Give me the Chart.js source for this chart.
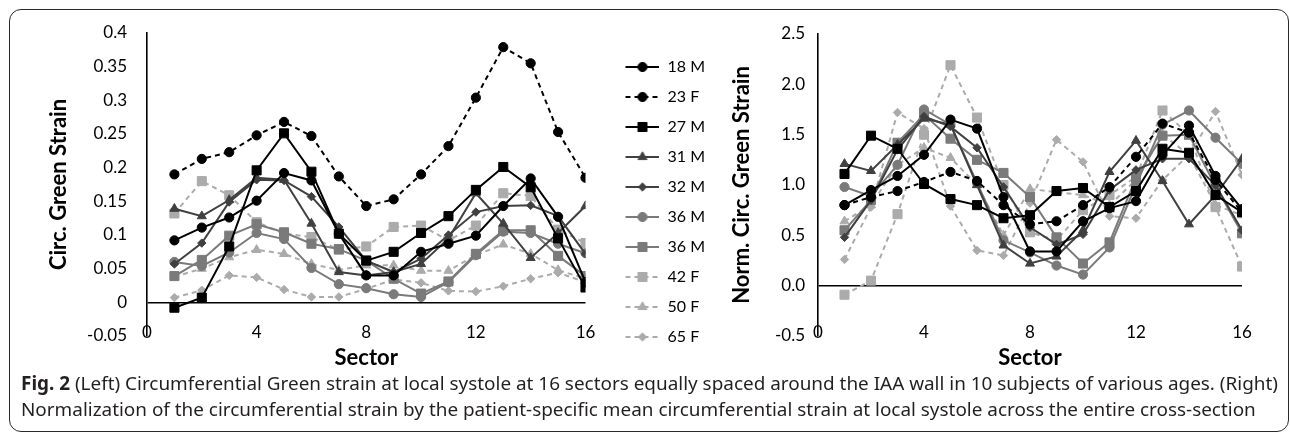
<!DOCTYPE html>
<html>
<head>
<meta charset="utf-8">
<script src="https://cdn.jsdelivr.net/npm/chart.js@4.4.1/dist/chart.umd.min.js"></script>
<style>
  html, body { margin: 0; padding: 0; background: #fff; }
  body { width: 1290px; height: 436px; position: relative; overflow: hidden; }
  #frame { position: absolute; left: 9px; top: 9px; width: 1280px; height: 423px; box-sizing: border-box;
           border: 1.5px solid #2a2a2a; border-radius: 12px; }
  #leftChart { position: absolute; left: 0; top: 0; }
  #rightChart { position: absolute; left: 715px; top: 0; }
  #caption { position: absolute; left: 21px; top: 370px; font-family: 'Noto Sans', sans-serif;
             font-size: 16px; line-height: 26px; color: #231f20; white-space: nowrap; }
  #caption b { font-weight: bold; }
</style>
</head>
<body>
<div id="frame"></div>
<canvas id="leftChart" width="715" height="371"></canvas>
<canvas id="rightChart" width="575" height="371"></canvas>
<div id="caption"><span id="capLine1"><b>Fig. 2</b> (Left) Circumferential Green strain at local systole at 16 sectors equally spaced around the IAA wall in 10 subjects of various ages. (Right)</span><br>Normalization of the circumferential strain by the patient-specific mean circumferential strain at local systole across the entire cross-section</div>
<script>
// sectors and subjects
const sectors = [1, 2, 3, 4, 5, 6, 7, 8, 9, 10, 11, 12, 13, 14, 15, 16];
const subjects = ['18 M', '23 F', '27 M', '31 M', '32 M', '36 M', '36 M', '42 F', '50 F', '65 F'];

// tick labels
const xTicks = [0, 4, 8, 12, 16];
const strainTicks = [-0.05, 0, 0.05, 0.1, 0.15, 0.2, 0.25, 0.3, 0.35, 0.4];
const normTicks = [-0.5, 0, 0.5, 1, 1.5, 2, 2.5];

// circumferential green strain (left)
const strain18M = [0.092, 0.111, 0.126, 0.151, 0.192, 0.181, 0.102, 0.040, 0.040, 0.075, 0.087, 0.099, 0.143, 0.184, 0.127, 0.030];
const strain23F = [0.190, 0.213, 0.223, 0.248, 0.268, 0.247, 0.187, 0.143, 0.153, 0.190, 0.232, 0.304, 0.379, 0.355, 0.253, 0.185];
const strain27M = [-0.008, 0.007, 0.083, 0.196, 0.251, 0.194, 0.102, 0.062, 0.075, 0.103, 0.128, 0.167, 0.201, 0.171, 0.095, 0.022];
const strain31M = [0.139, 0.128, 0.152, 0.185, 0.182, 0.117, 0.045, 0.040, 0.045, 0.057, 0.095, 0.162, 0.117, 0.066, 0.103, 0.143];
const strain32M = [0.057, 0.088, 0.149, 0.182, 0.181, 0.157, 0.112, 0.062, 0.045, 0.065, 0.100, 0.134, 0.143, 0.144, 0.128, 0.072];
const strain36Ma = [0.060, 0.054, 0.074, 0.103, 0.094, 0.051, 0.027, 0.021, 0.012, 0.008, 0.030, 0.070, 0.105, 0.103, 0.087, 0.073];
const strain36Mb = [0.039, 0.063, 0.099, 0.116, 0.104, 0.087, 0.079, 0.062, 0.035, 0.013, 0.031, 0.072, 0.107, 0.107, 0.069, 0.039];
const strain42F = [0.132, 0.180, 0.159, 0.119, 0.102, 0.097, 0.078, 0.083, 0.112, 0.114, 0.092, 0.114, 0.162, 0.158, 0.108, 0.088];
const strain50F = [0.038, 0.050, 0.067, 0.078, 0.072, 0.057, 0.048, 0.055, 0.055, 0.047, 0.047, 0.070, 0.086, 0.072, 0.048, 0.035];
const strain65F = [0.007, 0.018, 0.040, 0.037, 0.019, 0.008, 0.008, 0.020, 0.034, 0.029, 0.017, 0.016, 0.024, 0.035, 0.044, 0.030];

// normalized strain (right)
const norm18M = [0.80, 0.95, 1.09, 1.30, 1.65, 1.56, 0.88, 0.34, 0.34, 0.64, 0.77, 0.84, 1.30, 1.59, 1.09, 0.76];
const norm23F = [0.80, 0.88, 0.94, 1.03, 1.13, 1.04, 0.80, 0.61, 0.64, 0.80, 0.98, 1.28, 1.61, 1.52, 1.05, 0.73];
const norm27M = [1.11, 1.49, 1.36, 1.01, 0.86, 0.80, 0.67, 0.70, 0.94, 0.97, 0.78, 0.94, 1.36, 1.32, 0.90, 0.73];
const norm31M = [1.21, 1.14, 1.40, 1.66, 1.60, 1.00, 0.40, 0.22, 0.29, 0.55, 1.13, 1.44, 1.04, 0.61, 0.90, 1.26];
const norm32M = [0.48, 0.85, 1.35, 1.68, 1.58, 1.37, 0.98, 0.58, 0.41, 0.51, 0.95, 1.15, 1.26, 1.26, 1.00, 0.55];
const norm36Ma = [0.98, 0.89, 1.20, 1.75, 1.60, 1.02, 0.45, 0.33, 0.20, 0.11, 0.38, 1.00, 1.60, 1.74, 1.47, 1.21];
const norm36Mb = [0.55, 0.85, 1.42, 1.70, 1.46, 1.25, 1.12, 0.88, 0.48, 0.22, 0.43, 1.07, 1.49, 1.50, 0.99, 0.52];
const norm42F = [-0.09, 0.05, 0.71, 1.50, 2.19, 1.67, 1.00, 0.53, 0.45, 0.75, 0.90, 1.08, 1.74, 1.50, 0.78, 0.19];
const norm50F = [0.64, 0.80, 1.20, 1.37, 1.27, 1.00, 0.50, 0.96, 0.93, 0.90, 0.80, 1.05, 1.50, 1.30, 0.80, 0.70];
const norm65F = [0.26, 0.78, 1.72, 1.56, 0.79, 0.35, 0.30, 0.82, 1.45, 1.23, 0.69, 0.67, 1.05, 1.30, 1.73, 1.10];

const leftValues = [strain18M, strain23F, strain27M, strain31M, strain32M, strain36Ma, strain36Mb, strain42F, strain50F, strain65F];
const rightValues = [norm18M, norm23F, norm27M, norm31M, norm32M, norm36Ma, norm36Mb, norm42F, norm50F, norm65F];

// look of each subject
const BLACK = '#000000', DARK = '#404040', MID = '#7a7a7a', LIGHT = '#ababab';
const looks = [
  { color: BLACK, dash: [], marker: 'circle', r: 4.6 },
  { color: BLACK, dash: [5, 4], marker: 'circle', r: 4.6 },
  { color: BLACK, dash: [], marker: 'rect', r: 6.4 },
  { color: DARK, dash: [], marker: 'triangle', r: 5.2 },
  { color: DARK, dash: [], marker: 'rectRot', r: 4.2 },
  { color: MID, dash: [], marker: 'circle', r: 4.6 },
  { color: MID, dash: [], marker: 'rect', r: 6.4 },
  { color: LIGHT, dash: [5, 4], marker: 'rect', r: 6.4 },
  { color: LIGHT, dash: [5, 4], marker: 'triangle', r: 5.2 },
  { color: LIGHT, dash: [5, 4], marker: 'rectRot', r: 4.2 }
];

const FONT = 'Lato';

function buildDatasets(valueLists) {
  return valueLists.map((vals, i) => ({
    label: subjects[i],
    data: sectors.map((s, k) => ({ x: s, y: vals[k] })),
    borderColor: looks[i].color,
    backgroundColor: looks[i].color,
    borderWidth: 2,
    borderDash: looks[i].dash,
    tension: 0,
    pointStyle: looks[i].marker,
    pointRadius: looks[i].r,
    pointBorderWidth: 1,
    pointBorderColor: looks[i].color,
    pointBackgroundColor: looks[i].color
  }));
}

// legend sample: short line with a marker in its middle
function legendSample(look) {
  const c = document.createElement('canvas');
  c.width = 60; c.height = 14;
  const ctx = c.getContext('2d');
  ctx.strokeStyle = look.color;
  ctx.lineWidth = 2;
  ctx.setLineDash(look.dash);
  ctx.beginPath();
  ctx.moveTo(26, 7); ctx.lineTo(60, 7);
  ctx.stroke();
  ctx.setLineDash([]);
  ctx.fillStyle = look.color;
  ctx.strokeStyle = look.color;
  ctx.lineWidth = 1;
  Chart.helpers.drawPoint(ctx, { pointStyle: look.marker, radius: look.r, borderWidth: 1 }, 43, 7);
  return c;
}

function fixedTicks(list) {
  return function (scale) { scale.ticks = list.map(v => ({ value: v })); };
}

function zeroLine(ctx) {
  return ctx.tick && Math.abs(ctx.tick.value) < 1e-9 ? '#000' : 'rgba(0,0,0,0)';
}

function xScale() {
  return {
    type: 'linear', min: 0, max: 16,
    afterBuildTicks: fixedTicks(xTicks),
    afterFit: s => { s.height = 35; },
    grid: { display: false, drawTicks: false },
    border: { display: false },
    // mirrored so the labels can sit at the level of the lowest y tick, as in the original
    ticks: { mirror: true, padding: -7, color: '#000', font: { family: FONT, size: 17 } },
    title: { display: true, text: 'Sector', color: '#000', font: { family: FONT, size: 22, weight: 'bold' }, padding: { top: 0, bottom: 0 } }
  };
}

function yScale(min, max, list, title, width, fmt, titlePad, tickPad) {
  return {
    min: min, max: max,
    afterBuildTicks: fixedTicks(list),
    afterFit: s => { s.width = width; },
    grid: { drawTicks: false, color: zeroLine, lineWidth: 1.6 },
    border: { display: true, color: '#000', width: 1.6 },
    ticks: { padding: tickPad, color: '#000', font: { family: FONT, size: 17 }, callback: fmt },
    title: { display: true, text: title, color: '#000', font: { family: FONT, size: 22, weight: 'bold' }, padding: { top: titlePad, bottom: 0 } }
  };
}

const leftChart = new Chart(document.getElementById('leftChart'), {
  type: 'line',
  data: { datasets: buildDatasets(leftValues) },
  options: {
    responsive: false, animation: false, devicePixelRatio: 1,
    layout: { padding: { top: 33, left: 38, right: 0, bottom: 0 } },
    plugins: {
      tooltip: { enabled: false },
      legend: {
        position: 'right',
        labels: {
          usePointStyle: true, pointStyleWidth: 60, boxHeight: 14, padding: 14,
          color: '#000', font: { family: FONT, size: 16 },
          generateLabels: () => subjects.map((name, i) => ({
            text: name, pointStyle: legendSample(looks[i]), fillStyle: looks[i].color,
            strokeStyle: looks[i].color, lineWidth: 0, hidden: false, datasetIndex: i, fontColor: '#000'
          }))
        }
      }
    },
    scales: {
      x: xScale(),
      y: yScale(-0.05, 0.4, strainTicks, 'Circ. Green Strain', 147 - 38,
        v => String(+Number(v).toFixed(2)), 8, 20)
    }
  }
});

const rightChart = new Chart(document.getElementById('rightChart'), {
  type: 'line',
  data: { datasets: buildDatasets(rightValues) },
  options: {
    responsive: false, animation: false, devicePixelRatio: 1,
    layout: { padding: { top: 34, left: 10, right: 48, bottom: 0 } },
    plugins: { tooltip: { enabled: false }, legend: { display: false } },
    scales: {
      x: xScale(),
      y: yScale(-0.5, 2.5, normTicks, 'Norm. Circ. Green Strain', 103 - 10,
        v => Number(v).toFixed(1), 4, 13)
    }
  }
});

// caption: first line runs across the whole frame
const cap = document.getElementById('caption');
const line1 = document.getElementById('capLine1');
cap.style.fontSize = (16 * 1258 / line1.getBoundingClientRect().width).toFixed(2) + 'px';
</script>
</body>
</html>
